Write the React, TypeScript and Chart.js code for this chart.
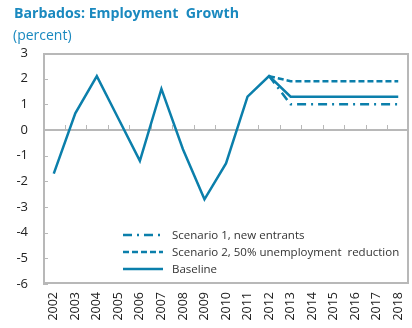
import React, { useEffect, useRef } from "react";
import { Chart, registerables } from "chart.js";

Chart.register(...registerables);

const years = ["2002","2003","2004","2005","2006","2007","2008","2009","2010","2011","2012","2013","2014","2015","2016","2017","2018"];
const baseline = [-1.7, 0.65, 2.1, 0.45, -1.2, 1.6, -0.75, -2.7, -1.3, 1.3, 2.1, 1.3, 1.3, 1.3, 1.3, 1.3, 1.3];
const scenario1 = [null, null, null, null, null, null, null, null, null, null, 2.1, 1.0, 1.0, 1.0, 1.0, 1.0, 1.0];
const scenario2 = [null, null, null, null, null, null, null, null, null, null, 2.1, 1.9, 1.9, 1.9, 1.9, 1.9, 1.9];
const legendLabels = ["Scenario 1, new entrants", "Scenario 2, 50% unemployment  reduction", "Baseline"];
const titleText = "Barbados: Employment  Growth";
const subtitleText = "(percent)";

const LINE = "#0b7fab";
const TITLE = "#1a89bf";
const AXIS = "#b8b8b8";
const FONT = "'Open Sans', 'Noto Sans', sans-serif";

const decorPlugin = {
  id: "decor",
  beforeDatasetsDraw(chart: any) {
    const { ctx, chartArea: a, scales } = chart;
    const y = scales.y;
    ctx.save();
    ctx.strokeStyle = AXIS;
    ctx.lineWidth = 1;
    for (let v = -6; v <= 3; v++) {
      const py = Math.round(y.getPixelForValue(v)) + 0.5;
      ctx.beginPath();
      ctx.moveTo(a.left, py);
      ctx.lineTo(a.left + 5, py);
      ctx.stroke();
    }
    const zy = Math.round(y.getPixelForValue(0));
    ctx.lineWidth = 2;
    ctx.beginPath();
    ctx.moveTo(a.left, zy);
    ctx.lineTo(a.right, zy);
    ctx.stroke();
    ctx.lineWidth = 1;
    const n = years.length;
    const w = (a.right - a.left) / n;
    for (let i = 1; i < n; i++) {
      const px = Math.round(a.left + i * w) + 0.5;
      ctx.beginPath();
      ctx.moveTo(px, zy);
      ctx.lineTo(px, zy - 5);
      ctx.stroke();
    }
    ctx.restore();
  },
  afterDraw(chart: any) {
    const { ctx, chartArea: a } = chart;
    ctx.save();
    // frame as filled rects
    ctx.fillStyle = AXIS;
    const L = Math.round(a.left), T = Math.round(a.top), R = Math.round(a.right), B = Math.round(a.bottom);
    ctx.fillRect(L, T, R - L, 2);
    ctx.fillRect(L, B - 2, R - L, 2);
    ctx.fillRect(L, T, 2, B - T);
    ctx.fillRect(R - 2, T, 2, B - T);
    // title
    ctx.fillStyle = TITLE;
    ctx.textBaseline = "alphabetic";
    ctx.textAlign = "left";
    ctx.font = `bold 14.2px ${FONT}`;
    ctx.fillText(titleText, 14, 18);
    ctx.font = `14px ${FONT}`;
    ctx.fillText(subtitleText, 13, 40);
    // legend
    const ds = chart.data.datasets;
    [0, 1, 2].forEach((i, r) => {
      const d = ds[i];
      const ly = 235 + r * 17;
      ctx.strokeStyle = d.borderColor;
      ctx.lineWidth = d.borderWidth;
      ctx.setLineDash(d.borderDash || []);
      ctx.beginPath();
      ctx.moveTo(123, ly);
      ctx.lineTo(163, ly);
      ctx.stroke();
      ctx.setLineDash([]);
      ctx.fillStyle = "#333333";
      ctx.font = `11.5px ${FONT}`;
      ctx.textBaseline = "middle";
      ctx.fillText(legendLabels[i], 172, ly + 0.5);
    });
    ctx.restore();
  },
};

export default function App() {
  const ref = useRef<HTMLCanvasElement | null>(null);
  useEffect(() => {
    const canvas = ref.current!;
    const chart = new Chart(canvas, {
      type: "line",
      data: {
        labels: years,
        datasets: [
          {
            label: legendLabels[0],
            data: scenario1,
            borderColor: LINE,
            borderWidth: 2.5,
            borderDash: [9, 5, 2, 5],
            pointRadius: 0,
            fill: false,
            tension: 0,
            order: 2,
          },
          {
            label: legendLabels[1],
            data: scenario2,
            borderColor: LINE,
            borderWidth: 2.5,
            borderDash: [6, 3],
            pointRadius: 0,
            fill: false,
            tension: 0,
            order: 3,
          },
          {
            label: legendLabels[2],
            data: baseline,
            borderColor: LINE,
            borderWidth: 2.5,
            pointRadius: 0,
            fill: false,
            tension: 0,
            order: 1,
          },
        ],
      },
      options: {
        animation: false,
        responsive: false,
        maintainAspectRatio: false,
        layout: { padding: { top: 53, right: 3, left: 0, bottom: 0 } },
        plugins: { legend: { display: false }, tooltip: { enabled: false }, title: { display: false } },
        scales: {
          x: {
            type: "category",
            offset: true,
            grid: { display: false, drawTicks: false },
            border: { display: false },
            ticks: {
              color: "#222222",
              font: { family: FONT, size: 12.5 },
              minRotation: 90,
              maxRotation: 90,
              padding: 8,
              autoSkip: false,
            },
            afterFit: (s: any) => { s.height = 44; s.paddingLeft = 0; s.paddingRight = 0; },
          },
          y: {
            min: -6,
            max: 3,
            grid: { display: false, drawTicks: false },
            border: { display: false },
            ticks: {
              stepSize: 1,
              color: "#222222",
              font: { family: FONT, size: 13 },
              padding: 15,
            },
            afterFit: (s: any) => { s.width = 43; s.paddingTop = 0; s.paddingBottom = 0; },
          },
        },
      },
      plugins: [decorPlugin],
    });
    return () => chart.destroy();
  }, []);
  return (
    <div style={{ position: "fixed", left: 0, top: 0, width: 412, height: 328, background: "#fff" }}>
      <canvas ref={ref} width={412} height={328} style={{ width: 412, height: 328, display: "block" }} />
    </div>
  );
}
